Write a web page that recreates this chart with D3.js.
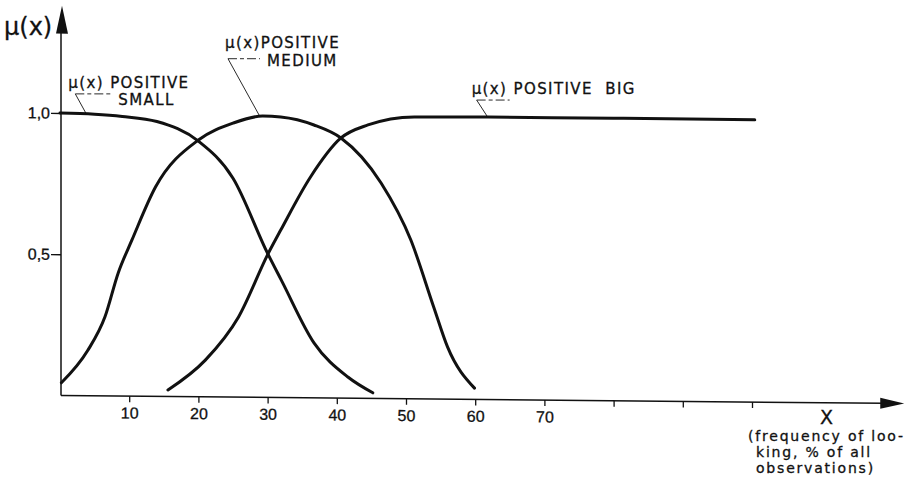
<!DOCTYPE html>
<html>
<head>
<meta charset="utf-8">
<script src="https://cdn.jsdelivr.net/npm/d3@7"></script>
<style>
  body { margin: 0; background: #fff; }
  svg { display: block; font-family: "DejaVu Sans", sans-serif; }
  svg text { stroke: #111; stroke-width: 0.3px; }
</style>
</head>
<body>
<div id="chart"></div>
<script>
// membership functions: [x (% of looking), mu(x)]
var positiveSmall = [[0, 1.0], [5, 0.997], [9, 0.99], [14, 0.973], [20, 0.905], [25, 0.775],
    [30, 0.51], [32, 0.415], [36.7, 0.195], [41.6, 0.075], [45.2, 0.02]];
var positiveMedium = [[0.2, 0.045], [4, 0.16], [6.5, 0.28], [8.4, 0.435], [10.4, 0.553], [13.8, 0.741],
    [20, 0.909], [25, 0.97], [29.3, 0.996], [31.9, 0.993], [36.7, 0.966], [40.6, 0.921],
    [46.4, 0.763], [50.7, 0.562], [54, 0.326], [56, 0.185], [59.9, 0.04]];
var positiveBig = [[15.6, 0.023], [21, 0.13], [25.8, 0.284], [30.1, 0.51], [31.9, 0.593], [36.2, 0.782],
    [40.6, 0.921], [44.5, 0.968], [51.2, 0.998], [61.9, 1.0], [80, 1.0], [100.4, 0.999]];

var xTicks = [10, 20, 30, 40, 50, 60, 70, 80, 90, 100];
var xTickLabels = ["10", "20", "30", "40", "50", "60", "70", "", "", ""];
var yTicks = [0.5, 1.0];
var yTickLabels = ["0,5", "1,0"];

var curveLabels = [
    { data: positiveSmall, at: 3.8, lines: ["\u03bc(x) POSITIVE", "SMALL"] },
    { data: positiveMedium, at: 28.9, lines: ["\u03bc(x)POSITIVE", "MEDIUM"] },
    { data: positiveBig, at: 61.8, lines: ["\u03bc(x) POSITIVE\u00a0\u00a0BIG"] }
];
var captionLines = ["(frequency of loo-", "king, % of all", "observations)"];

var attrs = {
    width: 910,
    height: 484,
    originX: 61,
    skew: 0.0095,          // the scan's x-axis runs slightly downhill
    xMax: 122,
    yMax: 1.38,
    curveWidth: 3,
    axisWidth: 1.5,
    ink: "#111"
};

var x = d3.scaleLinear().domain([0, 100]).range([60, 752]);
var y = d3.scaleLinear().domain([0, 1]).range([395.5, 113]);

function sk(px, py) { return [px, py + (px - attrs.originX) * attrs.skew]; }

function valueAt(data, v) {
    var i = d3.bisector(function(d){ return d[0]; }).left(data, v);
    i = Math.max(1, Math.min(data.length - 1, i));
    var a = data[i - 1], b = data[i];
    var t = (v - a[0]) / (b[0] - a[0]);
    return a[1] + t * (b[1] - a[1]);
}

var svg = d3.select("#chart").append("svg")
    .attr("width", attrs.width)
    .attr("height", attrs.height);

var plot = svg.append("g")
    .attr("transform", "translate(" + attrs.originX + ",0) skewY(" + (Math.atan(attrs.skew) * 180 / Math.PI) + ") translate(" + (-attrs.originX) + ",0)");

// axes lines
var x0 = attrs.originX;
plot.append("line")
    .attr("x1", x0).attr("y1", y(0))
    .attr("x2", x(attrs.xMax) - 20).attr("y2", y(0))
    .attr("stroke", attrs.ink).attr("stroke-width", attrs.axisWidth);
plot.append("line")
    .attr("x1", x0).attr("y1", y(0))
    .attr("x2", x0).attr("y2", y(attrs.yMax) + 20)
    .attr("stroke", attrs.ink).attr("stroke-width", attrs.axisWidth);

// arrow heads
var xt = x(attrs.xMax), yt = y(attrs.yMax);
plot.append("path")
    .attr("d", "M" + xt + "," + y(0) + "L" + (xt - 24) + "," + (y(0) - 5.5) + "L" + (xt - 24) + "," + (y(0) + 5.5) + "Z")
    .attr("fill", attrs.ink);
plot.append("path")
    .attr("d", "M" + (x0 + 1) + "," + yt + "L" + (x0 - 5) + "," + (yt + 28) + "L" + (x0 + 7) + "," + (yt + 28) + "Z")
    .attr("fill", attrs.ink);

var xAxis = d3.axisBottom(x)
    .tickValues(xTicks)
    .tickSize(6)
    .tickPadding(5)
    .tickFormat(function(d, i){ return xTickLabels[i]; });
var gx = plot.append("g")
    .attr("transform", "translate(0," + y(0) + ")")
    .call(xAxis);
gx.select(".domain").remove();
gx.selectAll(".tick line").attr("stroke", attrs.ink).attr("stroke-width", 1.3);
gx.selectAll(".tick text").attr("fill", attrs.ink).style("font-size", "16px");

var yAxis = d3.axisLeft(y)
    .tickValues(yTicks)
    .tickSize(10)
    .tickPadding(1)
    .tickFormat(function(d, i){ return yTickLabels[i]; });
var gy = plot.append("g")
    .attr("transform", "translate(" + x0 + ",0)")
    .call(yAxis);
gy.select(".domain").remove();
gy.selectAll(".tick line").attr("stroke", attrs.ink).attr("stroke-width", 1.3);
gy.selectAll(".tick text").attr("fill", attrs.ink).style("font-size", "16px");

// curves
var line = d3.line()
    .x(function(d){ return x(d[0]); })
    .y(function(d){ return y(d[1]); })
    .curve(d3.curveMonotoneX);

plot.selectAll("path.mf")
    .data([positiveSmall, positiveMedium, positiveBig])
    .enter()
    .append("path")
    .attr("class", "mf")
    .attr("d", line)
    .attr("fill", "none")
    .attr("stroke", attrs.ink)
    .attr("stroke-width", attrs.curveWidth)
    .attr("stroke-linecap", "round");

// annotations, drawn unskewed
var notes = svg.append("g")
    .attr("fill", attrs.ink)
    .style("font-size", "15px")
    .style("letter-spacing", "1.4px");
var layout = [
    { ex: -11, ey: -20, hl: 38, t: [[-7, -6], [43, 11]] },
    { ex: -32, ey: -58, hl: 32, t: [[-3, -11], [39, 7]] },
    { ex: -11, ey: -17, hl: 33, t: [[-5, -6]] }
];
curveLabels.forEach(function(c, i){
    var L = layout[i];
    var a = sk(x(c.at), y(valueAt(c.data, c.at)));
    var e = [a[0] + L.ex, a[1] + L.ey];
    notes.append("line")
        .attr("x1", a[0]).attr("y1", a[1]).attr("x2", e[0]).attr("y2", e[1])
        .attr("stroke", attrs.ink).attr("stroke-width", 0.9);
    notes.append("line")
        .attr("x1", e[0]).attr("y1", e[1]).attr("x2", e[0] + L.hl).attr("y2", e[1])
        .attr("stroke", attrs.ink).attr("stroke-width", 0.9)
        .attr("stroke-dasharray", "9,3,4,3");
    c.lines.forEach(function(s, j){
        notes.append("text")
            .attr("x", e[0] + L.t[j][0])
            .attr("y", e[1] + L.t[j][1])
            .text(s);
    });
});

// axis names
svg.append("text")
    .attr("x", 4).attr("y", 35)
    .attr("fill", attrs.ink)
    .style("font-size", "24px")
    .text("\u03bc(x)");
svg.append("text")
    .attr("x", 820).attr("y", 424)
    .attr("fill", attrs.ink)
    .style("font-size", "19px")
    .text("X");
svg.append("g")
    .attr("fill", attrs.ink)
    .style("font-size", "14px")
    .style("letter-spacing", "1.8px")
    .selectAll("text")
    .data(captionLines)
    .enter()
    .append("text")
    .attr("x", function(d, i){ return i === 0 ? 748 : 756; })
    .attr("y", function(d, i){ return 441 + i * 16; })
    .text(function(d){ return d; });
</script>
</body>
</html>
